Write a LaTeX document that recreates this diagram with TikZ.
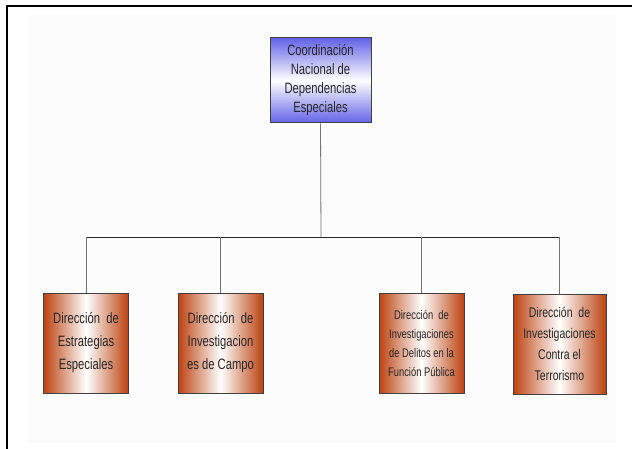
\documentclass[tikz,border=0pt]{standalone}
\usepackage{fontspec}
\setmainfont{Liberation Sans}[FakeStretch=0.75]
\definecolor{blueC}{RGB}{98,98,232}
\definecolor{brownC}{RGB}{188,66,16}
\begin{document}
\begin{tikzpicture}[x=1pt,y=-1pt,
  topbox/.style={draw=black!75, line width=1pt, top color=blueC, bottom color=blueC, middle color=white,
    minimum width=101pt, minimum height=85pt, inner sep=0pt, align=center, text=black!85},
  childbox/.style={draw=black!75, line width=1pt, left color=brownC, right color=brownC, middle color=white,
    minimum width=85pt, minimum height=100pt, inner sep=0pt, align=center, text=black!85},
  conn/.style={draw=black!55, line width=0.8pt},
  bar/.style={draw=black!85, line width=0.8pt}]
\useasboundingbox (0,0) rectangle (632,449);
\fill[black!1] (27,15) rectangle (617,443);
\draw[line width=2pt] (7,449) -- (7,6) -- (632,6);

\node[topbox, font=\fontsize{15}{19}\selectfont] (top) at (320.5,80.5) {Coordinación\\Nacional de\\Dependencias\\Especiales};

\node[childbox, font=\fontsize{15}{23}\selectfont] (c1) at (86,343) {Dirección\ \ de\\Estrategias\\Especiales};
\node[childbox, font=\fontsize{15}{23}\selectfont] (c2) at (220.5,343) {Dirección\ \ de\\Investigacion\\es de Campo};
\node[childbox, font=\fontsize{12.5}{19}\selectfont] (c3) at (421.5,343) {Dirección\ \ de\\Investigaciones\\de Delitos en la\\Función Pública};
\node[childbox, minimum width=93pt, font=\fontsize{14}{21}\selectfont] (c4) at (559.5,344) {Dirección\ \ de\\Investigaciones\\Contra el\\Terrorismo};

\coordinate (j) at (321,237);
\draw[conn] (top.south) -- (j);
\draw[bar] (c1.north |- j) -- (c4.north |- j);
\draw[conn] (c1.north |- j) -- (c1.north);
\draw[conn] (c2.north |- j) -- (c2.north);
\draw[conn] (c3.north |- j) -- (c3.north);
\draw[conn] (c4.north |- j) -- (c4.north);
\end{tikzpicture}
\end{document}
